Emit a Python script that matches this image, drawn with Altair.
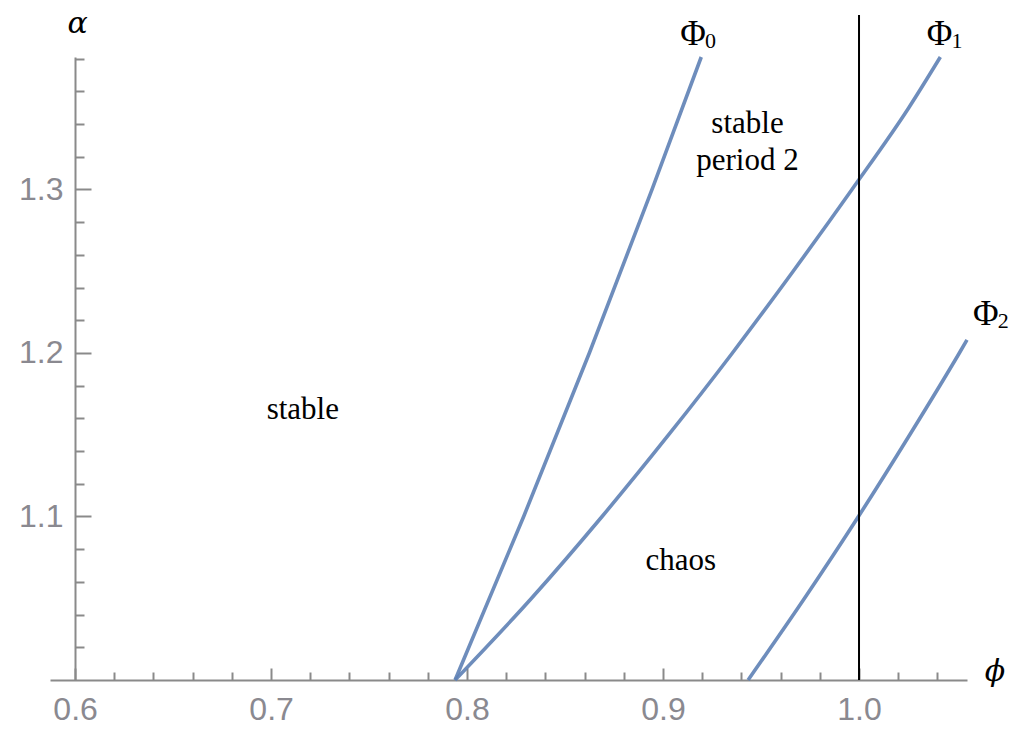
import altair as alt
import pandas as pd

# ---- curve data (phi, alpha) ----
PHI0_X = [0.7939, 0.8289, 0.8624, 0.8944, 0.9195]
PHI0_A = [1.000, 1.100, 1.200, 1.300, 1.381]
PHI1_X = [0.7939, 0.8329, 0.8689, 0.9029, 0.9354, 0.9664, 0.9964, 1.0254, 1.0415]
PHI1_A = [1.000, 1.050, 1.100, 1.150, 1.200, 1.250, 1.300, 1.350, 1.381]
PHI2_X = [0.9434, 0.9722, 0.9997, 1.0259, 1.0512, 1.0551]
PHI2_A = [1.000, 1.050, 1.100, 1.150, 1.200, 1.208]

# ---- axes ----
X_DOMAIN = [0.5872, 1.0551]
Y_DOMAIN = [1.0, 1.381]
X_MAJOR = [0.6, 0.7, 0.8, 0.9, 1.0]
X_MINOR = [0.62, 0.64, 0.66, 0.68, 0.72, 0.74, 0.76, 0.78, 0.82, 0.84, 0.86, 0.88,
           0.92, 0.94, 0.96, 0.98, 1.02, 1.04]
Y_MAJOR = [1.1, 1.2, 1.3]
Y_MINOR = [1.02, 1.04, 1.06, 1.08, 1.12, 1.14, 1.16, 1.18, 1.22, 1.24, 1.26, 1.28,
           1.32, 1.34, 1.36, 1.38]

# ---- vertical reference line phi = 1 ----
BOUNDARY_X = [1.0]
BOUNDARY_Y0 = [1.0]
BOUNDARY_Y1 = [1.4067]

# ---- annotations ----
REGION_TEXT = ["stable", "stable\nperiod 2", "chaos"]
REGION_X = [0.7162, 0.9431, 0.9091]
REGION_Y = [1.1594, 1.3346, 1.0673]

CURVE_NAME = ["Φ", "Φ", "Φ"]
CURVE_SUB = ["0", "1", "2"]
CURVE_LABEL_X = [0.9153, 1.0411, 1.0647]
CURVE_LABEL_Y = [1.3884, 1.3884, 1.2171]

AXIS_NAME = ["α", "ϕ"]
AXIS_NAME_X = [0.6013, 1.0694]
AXIS_NAME_Y = [1.3955, 0.9994]

W, H = 917, 623
AX_GRAY = "#8a8a8a"
LAB_GRAY = "#8a8990"
BLUE = "#5E81B5"

rows = []
for name, xs_, ys_ in [("Φ0", PHI0_X, PHI0_A), ("Φ1", PHI1_X, PHI1_A), ("Φ2", PHI2_X, PHI2_A)]:
    for i, (x, y) in enumerate(zip(xs_, ys_)):
        rows.append({"curve": name, "phi": x, "alpha": y, "i": i})
curves_df = pd.DataFrame(rows)
boundary_df = pd.DataFrame({"phi": BOUNDARY_X, "a0": BOUNDARY_Y0, "a1": BOUNDARY_Y1})
region_df = pd.DataFrame({"t": REGION_TEXT, "phi": REGION_X, "alpha": REGION_Y})
curve_lab_df = pd.DataFrame({"t": CURVE_NAME, "s": CURVE_SUB, "phi": CURVE_LABEL_X, "alpha": CURVE_LABEL_Y})
axis_name_df = pd.DataFrame({"t": AXIS_NAME, "phi": AXIS_NAME_X, "alpha": AXIS_NAME_Y})

xs = alt.Scale(domain=X_DOMAIN, nice=False, zero=False)
ys = alt.Scale(domain=Y_DOMAIN, nice=False, zero=False)

# axes: labels + domain lines
x_lab_axis = alt.Axis(orient="bottom", values=X_MAJOR, format=".1f", ticks=False, tickSize=0,
                      grid=False, domain=True, domainColor=AX_GRAY, domainWidth=2,
                      labelFont="Liberation Sans", labelFontSize=32, labelColor=LAB_GRAY,
                      labelPadding=14, labelFlush=False, title=None)
y_lab_axis = alt.Axis(orient="left", offset=-25, values=Y_MAJOR, format=".1f", ticks=False,
                      tickSize=0, grid=False, domain=True, domainColor=AX_GRAY, domainWidth=2,
                      labelFont="Liberation Sans", labelFontSize=32, labelColor=LAB_GRAY,
                      labelPadding=12, labelFlush=False, title=None)
# inward major ticks
x_major_axis = alt.Axis(orient="top", offset=-H, values=X_MAJOR, labels=False, domain=False,
                        grid=False, ticks=True, tickSize=12, tickWidth=2, tickColor=AX_GRAY,
                        title=None)
y_major_axis = alt.Axis(orient="right", offset=-(W - 25), values=Y_MAJOR, labels=False,
                        domain=False, grid=False, ticks=True, tickSize=16, tickWidth=2,
                        tickColor=AX_GRAY, title=None)
# inward minor ticks
x_minor_axis = alt.Axis(orient="top", offset=-H, values=X_MINOR, labels=False, domain=False,
                        grid=False, ticks=True, tickSize=8, tickWidth=2, tickColor=AX_GRAY,
                        title=None)
y_minor_axis = alt.Axis(orient="right", offset=-(W - 25), values=Y_MINOR, labels=False,
                        domain=False, grid=False, ticks=True, tickSize=9, tickWidth=2,
                        tickColor=AX_GRAY, title=None)

curves = alt.Chart(curves_df).mark_line(
    color=BLUE, strokeWidth=3.6, opacity=0.9, interpolate="monotone"
).encode(
    x=alt.X("phi:Q", scale=xs, axis=x_lab_axis),
    y=alt.Y("alpha:Q", scale=ys, axis=y_lab_axis),
    detail="curve:N",
    order="i:Q",
)

boundary = alt.Chart(boundary_df).mark_rule(color="black", strokeWidth=2).encode(
    x=alt.X("phi:Q", scale=xs, axis=x_major_axis),
    y=alt.Y("a0:Q", scale=ys, axis=y_major_axis),
    y2="a1:Q",
)

regions = alt.Chart(region_df).mark_text(
    font="Liberation Serif", fontSize=31, color="black", align="center",
    baseline="alphabetic", lineBreak="\n", lineHeight=37,
).encode(
    x=alt.X("phi:Q", scale=xs, axis=x_minor_axis),
    y=alt.Y("alpha:Q", scale=ys, axis=y_minor_axis),
    text="t:N",
)

curve_names = alt.Chart(curve_lab_df).mark_text(
    font="Liberation Serif", fontSize=35, color="black", align="center", baseline="alphabetic",
).encode(
    x=alt.X("phi:Q", scale=xs, axis=None),
    y=alt.Y("alpha:Q", scale=ys, axis=None),
    text="t:N",
)
curve_subs = alt.Chart(curve_lab_df).mark_text(
    font="Liberation Serif", fontSize=22, color="black", align="left", baseline="alphabetic",
    dx=12, dy=3,
).encode(
    x=alt.X("phi:Q", scale=xs, axis=None),
    y=alt.Y("alpha:Q", scale=ys, axis=None),
    text="s:N",
)

axis_names = alt.Chart(axis_name_df).mark_text(
    font="DejaVu Serif", fontStyle="italic", fontSize=30, color="black", align="center",
    baseline="alphabetic",
).encode(
    x=alt.X("phi:Q", scale=xs, axis=None),
    y=alt.Y("alpha:Q", scale=ys, axis=None),
    text="t:N",
)

chart = alt.layer(curves, boundary, regions, curve_names, curve_subs, axis_names).resolve_axis(
    x="independent", y="independent"
).properties(
    width=W, height=H,
    background="white",
    autosize=alt.AutoSizeParams(type="none"),
    padding={"left": 42, "top": 49, "right": 43, "bottom": 48},
).configure_view(stroke="transparent", strokeWidth=0)

chart.save("out.html", embed_options={"renderer": "svg", "actions": False})
